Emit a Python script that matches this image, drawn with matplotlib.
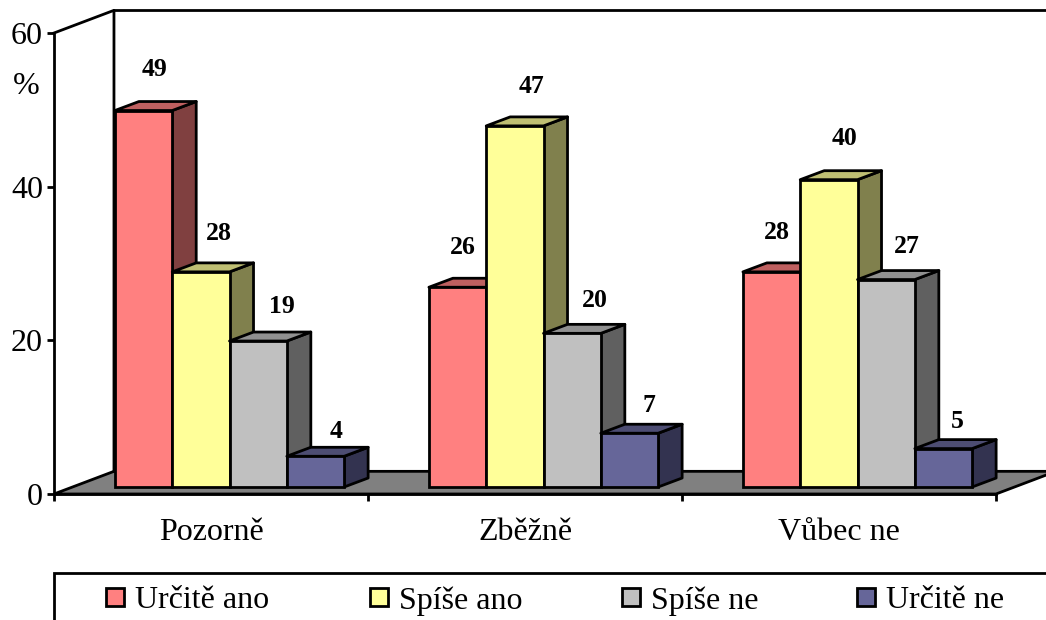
import matplotlib.pyplot as plt
from matplotlib.patches import Polygon, Rectangle

plt.rcParams['font.family'] = ['Liberation Serif', 'DejaVu Serif']

categories = ['Pozorně', 'Zběžně', 'Vůbec ne']
series_names = ['Určitě ano', 'Spíše ano', 'Spíše ne', 'Určitě ne']
urcite_ano = [49, 26, 28]
spise_ano = [28, 47, 40]
spise_ne = [19, 20, 27]
urcite_ne = [4, 7, 5]
y_ticks = [0, 20, 40, 60]

FRONT = ['#FF8080', '#FFFF99', '#C0C0C0', '#666699']
TOP = ['#BF6060', '#BFBF73', '#909090', '#4D4D73']
SIDE = ['#804040', '#80804D', '#606060', '#333350']

W, H = 1046, 620
LW = 2.0
FONT = 23

# depth of the chart box and of the bars, in axis units
WALL_DX, WALL_DY = 0.191, 2.95
BAR_DX, BAR_DY = 0.0764, 1.17
BASE_DX, BASE_DY = 0.194, 0.91
BAR_W = 0.1825

# label nudges in points, per category and series
LABEL_DX = [[8, 13, 17, 15], [4, 12, 16, 14], [4, 11, 15, 10]]
LABEL_DY = [[19, 17, 14, 7], [18, 18, 13, 9], [18, 19, 13, 9]]

fig = plt.figure(figsize=(W / 100, H / 100), dpi=100)
ax = fig.add_axes([54 / W, 1 - 494 / H, 942 / W, 461 / H])
ax.set_xlim(0, 3)
ax.set_ylim(0, 60)
ax.patch.set_visible(False)

for side in ['top', 'right']:
    ax.spines[side].set_visible(False)
for side in ['left', 'bottom']:
    ax.spines[side].set_linewidth(LW)
    ax.spines[side].set_zorder(1)

ax.set_yticks(y_ticks)
ax.set_xticks([0, 1, 2, 3])
ax.set_xticklabels([])
ax.set_xticks([0.5, 1.5, 2.5], labels=categories, minor=True)
ax.tick_params(axis='y', length=5, width=LW, labelsize=FONT, pad=3)
ax.tick_params(axis='x', which='major', length=5, width=LW)
ax.tick_params(axis='x', which='minor', length=0, labelsize=FONT, pad=17)

# floor and back walls
ax.add_patch(Polygon([(0, 0), (3, 0), (3 + WALL_DX, WALL_DY), (WALL_DX, WALL_DY)],
                     fc='#808080', ec='black', lw=LW, clip_on=False, zorder=0.5))
ax.plot([0, WALL_DX, WALL_DX], [60, 60 + WALL_DY, WALL_DY], color='black', lw=LW,
        clip_on=False, zorder=0.6)
ax.plot([WALL_DX, 3 + WALL_DX], [60 + WALL_DY, 60 + WALL_DY], color='black', lw=LW,
        clip_on=False, zorder=0.6)

series = [urcite_ano, spise_ano, spise_ne, urcite_ne]
z = 2
for c in range(len(categories)):
    for s, values in enumerate(series):
        v = values[c]
        x0 = c + BASE_DX + s * BAR_W
        x1 = x0 + BAR_W
        y0 = BASE_DY
        y1 = BASE_DY + v
        ax.add_patch(Polygon([(x1, y0), (x1 + BAR_DX, y0 + BAR_DY), (x1 + BAR_DX, y1 + BAR_DY), (x1, y1)],
                             fc=SIDE[s], ec='black', lw=LW, joinstyle='round', clip_on=False, zorder=z))
        ax.add_patch(Polygon([(x0, y1), (x1, y1), (x1 + BAR_DX, y1 + BAR_DY), (x0 + BAR_DX, y1 + BAR_DY)],
                             fc=TOP[s], ec='black', lw=LW, joinstyle='round', clip_on=False, zorder=z))
        ax.add_patch(Rectangle((x0, y0), BAR_W, v, fc=FRONT[s], ec='black', lw=LW, clip_on=False, zorder=z))
        ax.annotate(str(v), (x0 + BAR_W / 2, y1), xytext=(LABEL_DX[c][s], LABEL_DY[c][s] + 6),
                    textcoords='offset points', ha='center', va='baseline', fontsize=18.5,
                    fontweight='bold', zorder=20, annotation_clip=False)
        z += 1

fig.text(26 / W, 1 - 86 / H, '%', ha='center', va='center', fontsize=FONT)

# legend box runs off the picture on the right and at the bottom
fig.add_artist(Rectangle((54 / W, -0.05), 1.0, 1 - 573 / H + 0.05, transform=fig.transFigure,
                         fc='white', ec='black', lw=LW))
legend_x = [106, 370, 622, 857]
for x, name, color in zip(legend_x, series_names, FRONT):
    fig.add_artist(Rectangle((x / W, 1 - 606 / H), 18 / W, 18 / H, transform=fig.transFigure,
                             fc=color, ec='black', lw=LW))
    fig.text((x + 29) / W, 1 - 601 / H, name, ha='left', va='center', fontsize=FONT)

plt.savefig('out.png', dpi=100)
